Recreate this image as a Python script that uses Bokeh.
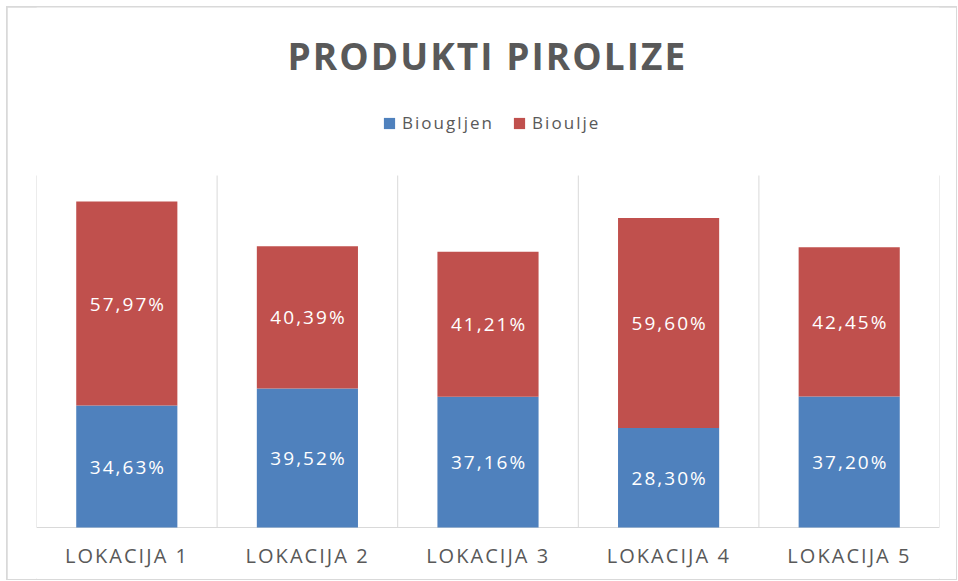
from bokeh.plotting import figure
from bokeh.models import (ColumnDataSource, Range1d, Legend, LegendItem, LabelSet, Label)
from bokeh.core.properties import value
from bokeh.embed import file_html
from bokeh.resources import INLINE

# ---- data ----
categories = ["LOKACIJA 1", "LOKACIJA 2", "LOKACIJA 3", "LOKACIJA 4", "LOKACIJA 5"]
biougljen = [34.63, 39.52, 37.16, 28.30, 37.20]
bioulje = [57.97, 40.39, 41.21, 59.60, 42.45]
series_names = ["Biougljen", "Bioulje"]
colors = ["#4F81BD", "#C0504D"]
chart_title = "PRODUKTI PIROLIZE"
value_max = 100

FONT = "Open Sans"
TXT = "#595959"
GRID = "#d9d9d9"

n = len(categories)
xs = [i + 0.5 for i in range(n)]
src = ColumnDataSource(dict(x=xs, c=biougljen, o=bioulje))

# the frame spans the whole chart; layout in pixels from the figure's top edge
FIG_W, FIG_H = 949, 572
ZERO_PX, TOP_PX = 520, 168          # where value 0 and value 100 sit
per_px = value_max / (ZERO_PX - TOP_PX)
y0 = -(FIG_H - ZERO_PX) * per_px
y1 = ZERO_PX * per_px

p = figure(width=FIG_W, height=FIG_H, output_backend="svg", toolbar_location=None,
           title=None, x_range=Range1d(0, n), y_range=Range1d(y0, y1),
           min_border_left=29, min_border_right=17, min_border_bottom=0,
           min_border_top=0)
p.margin = (7, 0, 0, 7)
p.styles = {"outline": "2px solid #d9d9d9", "outline-offset": "-1px",
            "letter-spacing": "0.17em"}
p.xaxis.visible = False
p.yaxis.visible = False
p.xgrid.visible = False
p.ygrid.visible = False
p.outline_line_color = None

# category separator lines and baseline
bounds = list(range(n + 1))
p.segment(x0=bounds, y0=[0] * len(bounds), x1=bounds, y1=[value_max] * len(bounds),
          line_color=GRID, line_width=1)
p.segment(x0=[0], y0=[0], x1=[n], y1=[0], line_color=GRID, line_width=1)

rs = p.vbar_stack(["c", "o"], x="x", width=0.56, color=colors, line_color=None, source=src)

# data labels
lab_x = xs + xs
lab_y = [v / 2 for v in biougljen] + [c + o / 2 for c, o in zip(biougljen, bioulje)]
lab_t = [f"{v:.2f}".replace(".", ",") + "%" for v in biougljen + bioulje]
lsrc = ColumnDataSource(dict(x=lab_x, y=lab_y, t=lab_t))
p.add_layout(LabelSet(x="x", y="y", text="t", source=lsrc, text_align="center",
                      text_baseline="middle", text_color="white", x_offset=-5,
                      text_font=value(FONT), text_font_size="19px"))

# category labels
csrc = ColumnDataSource(dict(x=xs, y=[0] * n, t=categories))
p.add_layout(LabelSet(x="x", y="y", text="t", source=csrc, text_align="center",
                      text_baseline="middle", text_color=TXT, x_offset=-10, y_offset=-28,
                      text_font=value(FONT), text_font_size="20px"))

# title
p.add_layout(Label(x=n / 2, y=(ZERO_PX - 48) * per_px, text=chart_title,
                   x_offset=-18, text_align="center", text_baseline="middle",
                   text_font=FONT, text_font_size="37px", text_font_style="bold",
                   text_color=TXT))

legend = Legend(items=[LegendItem(label=s, renderers=[r]) for s, r in zip(series_names, rs)],
                orientation="horizontal", location=(346, 445),
                label_text_font=FONT, label_text_font_size="17px", label_text_color=TXT,
                glyph_width=14, glyph_height=14, label_standoff=6, spacing=18,
                padding=0, margin=0, border_line_color=None, background_fill_alpha=0)
p.add_layout(legend, "center")

open("out.html", "w").write(file_html(p, INLINE))
